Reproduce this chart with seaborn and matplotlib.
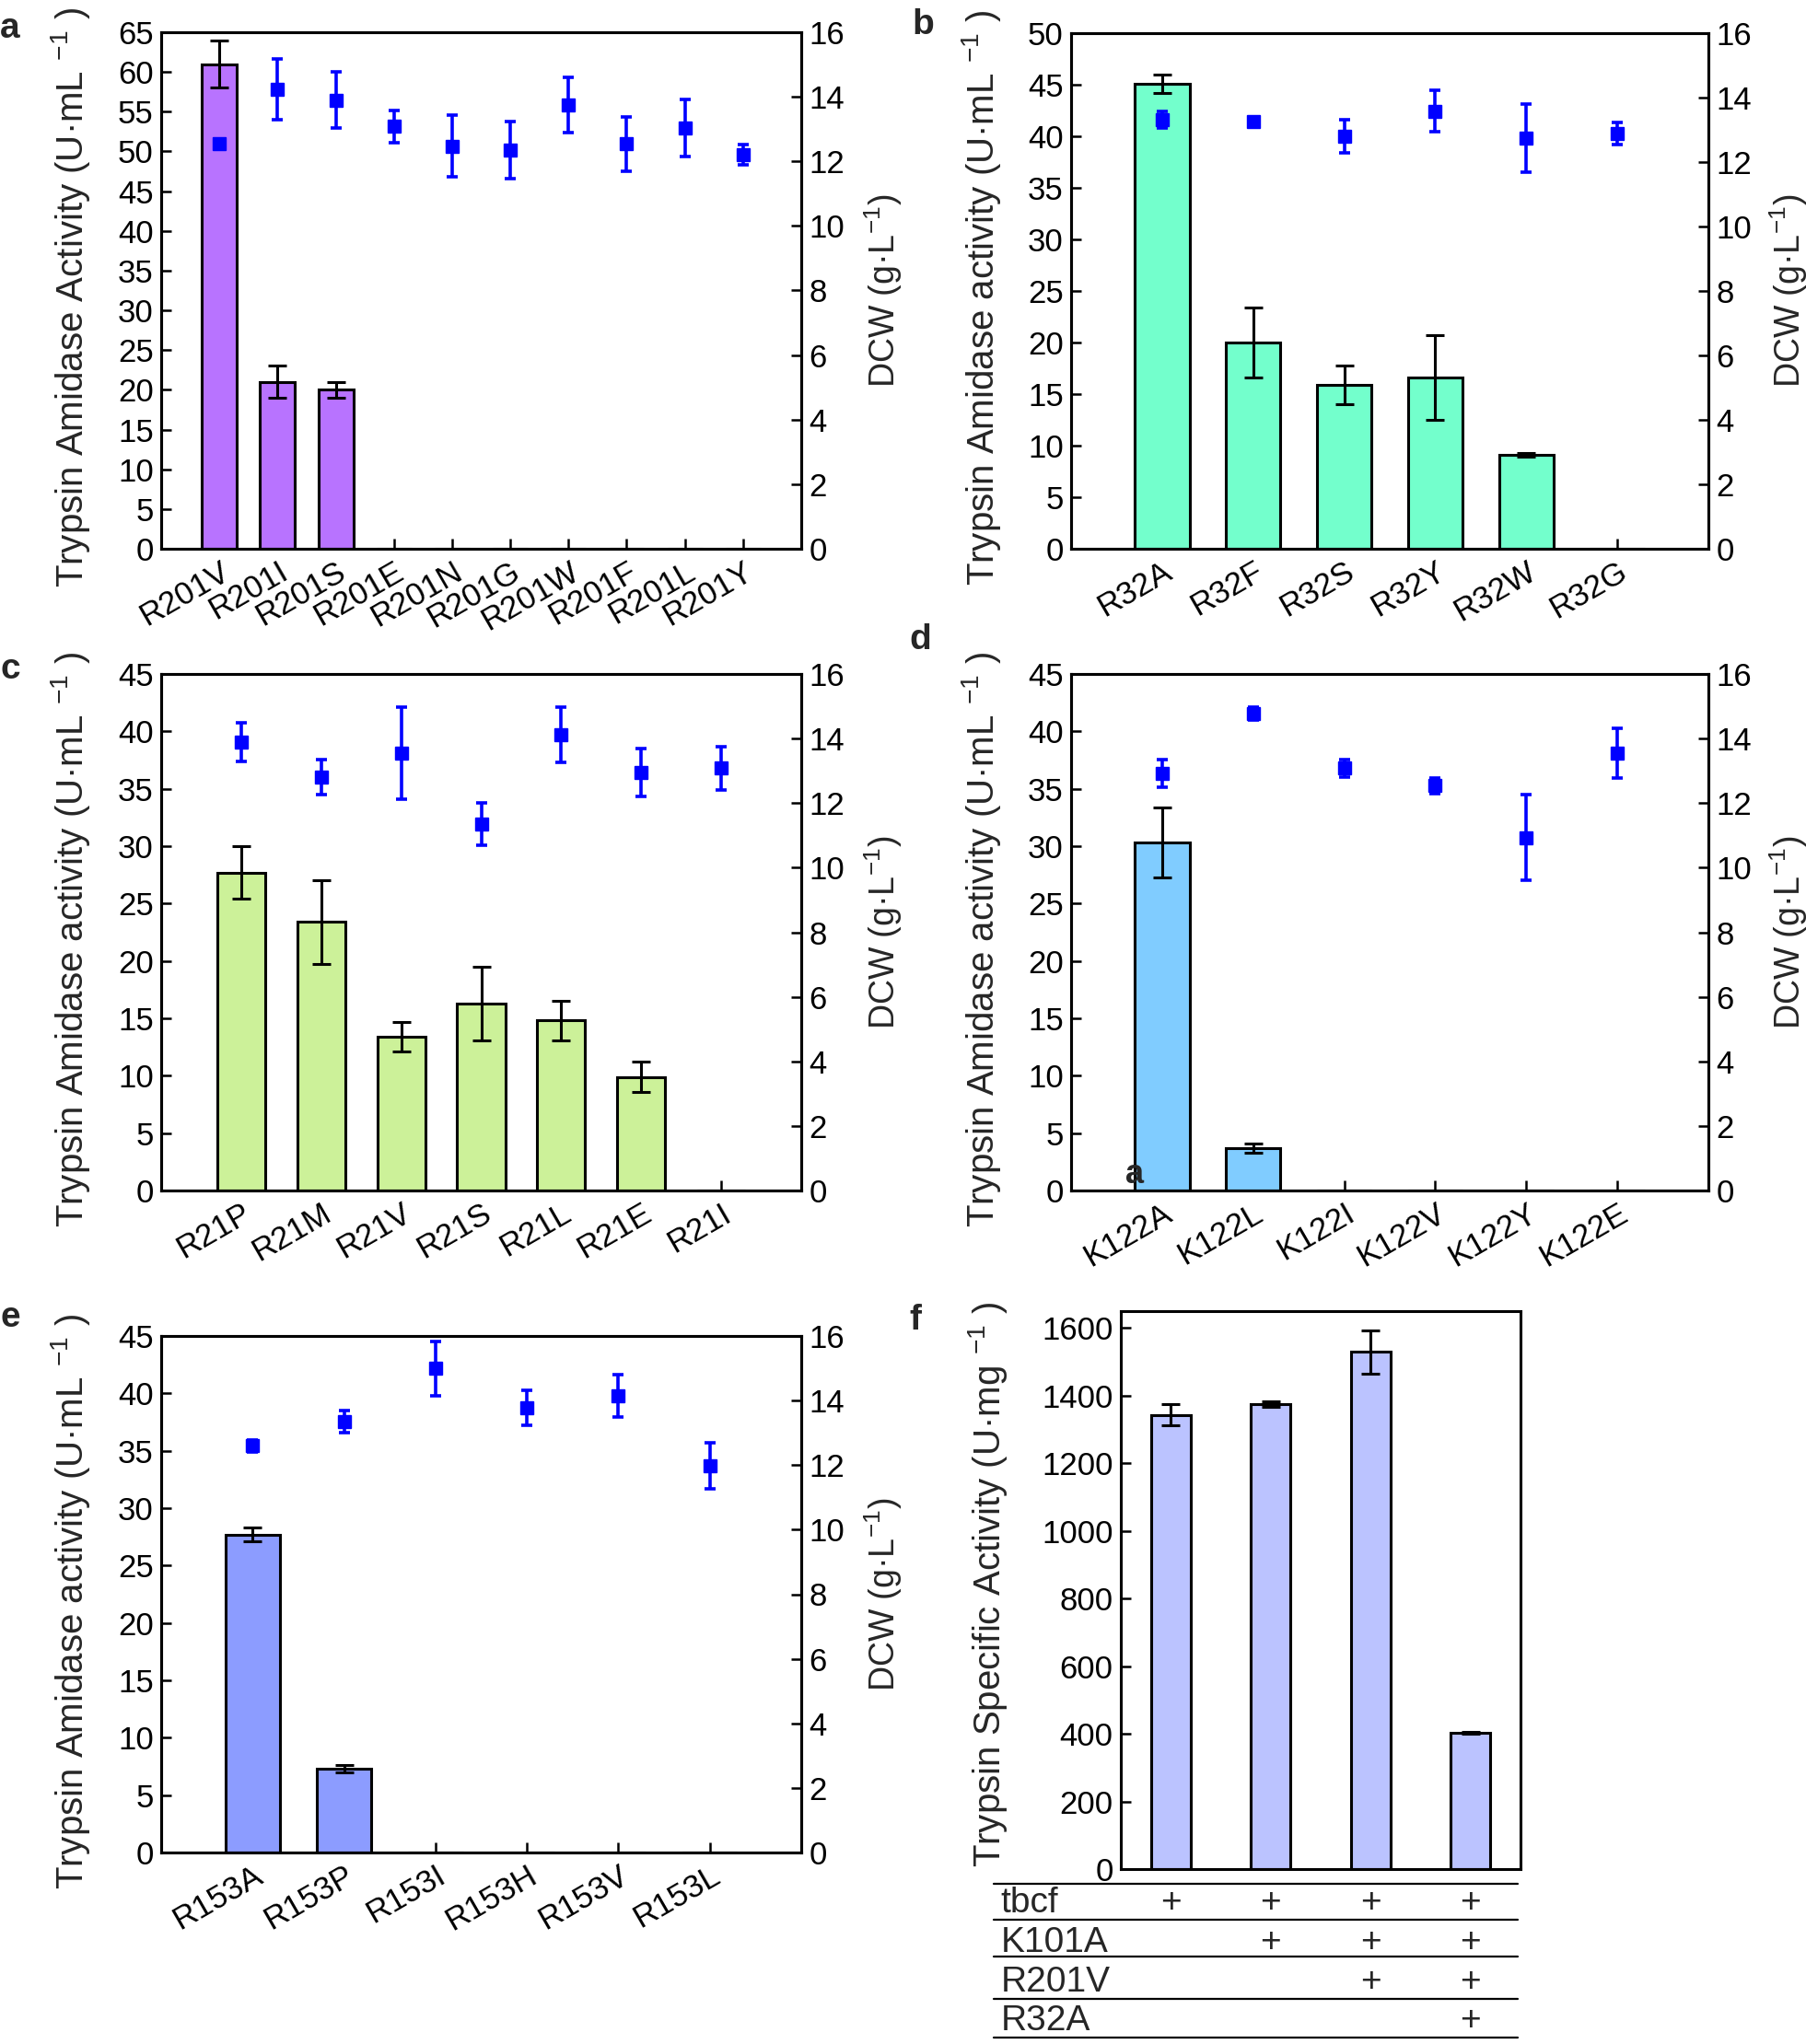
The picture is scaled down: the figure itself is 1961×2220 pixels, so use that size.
import numpy as np
import pandas as pd
import matplotlib
matplotlib.use("Agg")
import matplotlib.pyplot as plt
import matplotlib.transforms as mtransforms
from matplotlib.lines import Line2D
import seaborn as sns

sns.set_theme(style="ticks")
plt.rcParams["font.family"] = ["Liberation Sans", "DejaVu Sans"]
plt.rcParams["mathtext.fontset"] = "custom"
plt.rcParams["mathtext.rm"] = "Liberation Sans"
plt.rcParams["mathtext.default"] = "regular"

# ---------------- data ----------------
a_labels = ["R201V", "R201I", "R201S", "R201E", "R201N", "R201G", "R201W", "R201F", "R201L", "R201Y"]
a_act = [61.0, 21.0, 20.0, 0, 0, 0, 0, 0, 0, 0]
a_act_err = [3.0, 2.0, 1.0, 0, 0, 0, 0, 0, 0, 0]
a_dcw = [12.54, 14.23, 13.90, 13.09, 12.47, 12.35, 13.75, 12.54, 13.03, 12.21]
a_dcw_err = [0.12, 0.95, 0.88, 0.50, 0.96, 0.89, 0.86, 0.85, 0.88, 0.32]

b_labels = ["R32A", "R32F", "R32S", "R32Y", "R32W", "R32G"]
b_act = [45.1, 20.0, 15.9, 16.6, 9.1, 0]
b_act_err = [0.9, 3.35, 1.85, 4.1, 0.2, 0]
b_dcw = [13.32, 13.27, 12.80, 13.58, 12.74, 12.88]
b_dcw_err = [0.25, 0.10, 0.52, 0.65, 1.05, 0.35]

c_labels = ["R21P", "R21M", "R21V", "R21S", "R21L", "R21E", "R21I"]
c_act = [27.7, 23.4, 13.4, 16.3, 14.8, 9.9, 0]
c_act_err = [2.3, 3.65, 1.25, 3.2, 1.75, 1.3, 0]
c_dcw = [13.90, 12.80, 13.55, 11.35, 14.11, 12.95, 13.08]
c_dcw_err = [0.60, 0.55, 1.43, 0.65, 0.85, 0.73, 0.68]

d_labels = ["K122A", "K122L", "K122I", "K122V", "K122Y", "K122E"]
d_act = [30.3, 3.7, 0, 0, 0, 0]
d_act_err = [3.06, 0.42, 0, 0, 0, 0]
d_dcw = [12.91, 14.76, 13.08, 12.54, 10.93, 13.55]
d_dcw_err = [0.43, 0.20, 0.28, 0.25, 1.33, 0.77]

e_labels = ["R153A", "R153P", "R153I", "R153H", "R153V", "R153L"]
e_act = [27.7, 7.3, 0, 0, 0, 0]
e_act_err = [0.58, 0.30, 0, 0, 0, 0]
e_dcw = [12.60, 13.35, 14.99, 13.77, 14.15, 11.97]
e_dcw_err = [0.18, 0.35, 0.83, 0.55, 0.65, 0.71]

f_groups = ["g1", "g2", "g3", "g4"]
f_act = [1343, 1374, 1529, 404]
f_act_err = [31, 8, 63, 3]
f_rows = ["tbcf", "K101A", "R201V", "R32A"]
f_marks = [[1, 1, 1, 1],
           [0, 1, 1, 1],
           [0, 0, 1, 1],
           [0, 0, 0, 1]]

# ---------------- styling ----------------
W, H = 1961, 2220
DPI = 100
fig = plt.figure(figsize=(W / DPI, H / DPI), dpi=DPI)

TICK_FS = 25
LAB_FS = 29
RLAB_FS = 27
LW = 2.2
BLUE = "#0000FF"


def rect(l, r, t, b):
    return [l / W, 1 - b / H, (r - l) / W, (b - t) / H]


def style_axis(ax):
    for s in ax.spines.values():
        s.set_linewidth(LW)
        s.set_color("black")
        s.set_visible(True)
    ax.tick_params(direction="in", length=8, width=1.8, labelsize=TICK_FS, pad=6, colors="black")


def panel(pos, labels, act, act_err, dcw, dcw_err, color, ymax, ystep, ylabel, lab_x, rlab_x):
    ax = fig.add_axes(rect(*pos))
    df = pd.DataFrame({"mut": labels, "act": act})
    sns.barplot(data=df, x="mut", y="act", order=labels, color=color, saturation=1,
                width=0.6, edgecolor="black", linewidth=LW, errorbar=None, ax=ax)
    x = np.arange(len(labels))
    act = np.asarray(act, float)
    m = act > 0
    ax.errorbar(x[m], act[m], yerr=np.asarray(act_err, float)[m], fmt="none", ecolor="black",
                elinewidth=2.2, capsize=7, capthick=2.2, zorder=5)
    ax.set_xlim(-1, len(labels))
    ax.set_ylim(0, ymax)
    ax.set_yticks(np.arange(0, ymax + 0.01, ystep))
    ax.set_xlabel("")
    ax.set_ylabel(ylabel, fontsize=LAB_FS)
    ax.yaxis.set_label_coords(lab_x, 0.487)
    style_axis(ax)
    ax.tick_params(axis="x", labelsize=TICK_FS)
    for t in ax.get_xticklabels():
        t.set_rotation(30)
        t.set_ha("right")
        t.set_va("top")
        t.set_rotation_mode("anchor")

    ax2 = ax.twinx()
    ax2.errorbar(x, dcw, yerr=dcw_err, fmt="s", color=BLUE, ecolor=BLUE, markersize=10,
                 elinewidth=2.6, capsize=4.5, capthick=2.6, zorder=6)
    ax2.set_ylim(0, 16)
    ax2.set_yticks(np.arange(0, 17, 2))
    ax2.set_ylabel("DCW (g·L$^{-1}$)", fontsize=RLAB_FS)
    ax2.yaxis.set_label_coords(rlab_x, 0.5)
    style_axis(ax2)
    ax2.grid(False)
    ax.grid(False)
    return ax, ax2


lab_act = "Trypsin Amidase Activity (U·mL $^{-1}$ )"
lab_act2 = "Trypsin Amidase activity (U·mL $^{-1}$ )"

panel((175, 870, 35, 596), a_labels, a_act, a_act_err, a_dcw, a_dcw_err,
      "#B873FF", 65, 5, lab_act, -0.108, 1.096)
panel((1163, 1855, 36, 596), b_labels, b_act, b_act_err, b_dcw, b_dcw_err,
      "#73FFCC", 50, 5, lab_act2, -0.107, 1.093)
panel((175, 870, 732, 1293), c_labels, c_act, c_act_err, c_dcw, c_dcw_err,
      "#CCF199", 45, 5, lab_act2, -0.108, 1.096)
axd, _ = panel((1163, 1855, 732, 1293), d_labels, d_act, d_act_err, d_dcw, d_dcw_err,
               "#80CCFF", 45, 5, lab_act2, -0.107, 1.093)
panel((175, 870, 1451, 2012), e_labels, e_act, e_act_err, e_dcw, e_dcw_err,
      "#8C9CFF", 45, 5, lab_act2, -0.108, 1.096)

axd.text(-0.30, 1.44, "a", fontsize=26, fontweight="bold", ha="center", va="center", zorder=7)

# ---------------- panel f ----------------
axf = fig.add_axes(rect(1217, 1651, 1424, 2030))
dff = pd.DataFrame({"grp": f_groups, "act": f_act})
sns.barplot(data=dff, x="grp", y="act", order=f_groups, color="#BBC3FF", saturation=1,
            width=0.4, edgecolor="black", linewidth=LW, errorbar=None, ax=axf)
xf = np.arange(len(f_groups))
axf.errorbar(xf, f_act, yerr=f_act_err, fmt="none", ecolor="black", elinewidth=2.2,
             capsize=7, capthick=2.2, zorder=5)
axf.set_xlim(-0.5, len(f_groups) - 0.5)
axf.set_ylim(0, 1650)
axf.set_yticks(np.arange(0, 1601, 200))
axf.set_xticklabels([])
axf.set_xlabel("")
axf.set_ylabel("Trypsin Specific Activity (U·mg $^{-1}$ )", fontsize=LAB_FS)
axf.yaxis.set_label_coords(-0.279, 0.51)
style_axis(axf)
axf.grid(False)

trans = mtransforms.blended_transform_factory(axf.transData, axf.transAxes)
line_y = [-0.026, -0.091, -0.157, -0.233, -0.302]
for yy in line_y:
    axf.add_line(Line2D([-0.318, 0.993], [yy, yy], transform=axf.transAxes, color="black",
                        lw=1.6, clip_on=False))
row_y = [-0.061, -0.132, -0.203, -0.272]
for name, ry, marks in zip(f_rows, row_y, f_marks):
    axf.text(-0.30, ry, name, transform=axf.transAxes, fontsize=28, ha="left", va="center")
    for xi, mk in zip(xf, marks):
        if mk:
            axf.text(xi, ry, "+", transform=trans, fontsize=28, ha="center", va="center")

# ---------------- panel letters ----------------
for letter, px, py in [("a", 0, 13), ("b", 990, 9), ("c", 0, 709),
                       ("d", 987, 677), ("e", 0, 1413), ("f", 987, 1416)]:
    fig.text(px / W, 1 - py / H, letter, fontsize=28, fontweight="bold", ha="left", va="top")

fig.savefig("out.png", dpi=DPI, facecolor="white")
